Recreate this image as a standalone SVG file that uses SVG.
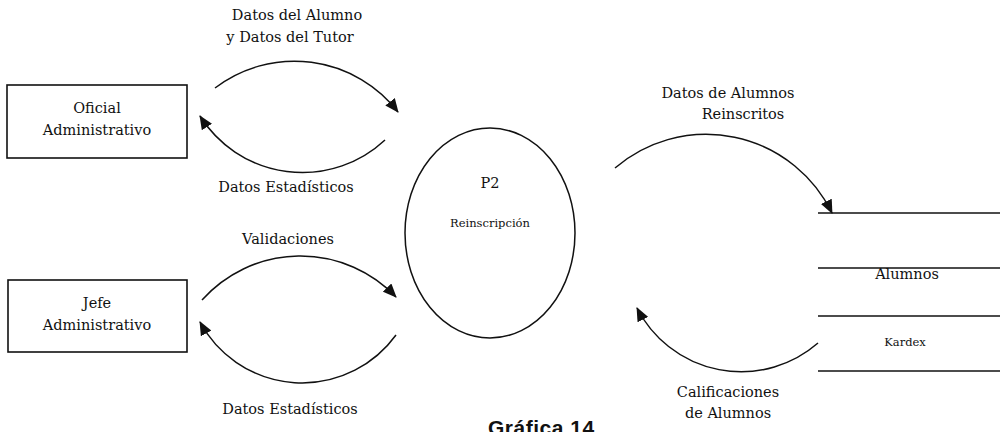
<svg xmlns="http://www.w3.org/2000/svg" width="1000" height="432" viewBox="0 0 1000 432">
<style>
.t{font-family:"DejaVu Serif","Liberation Serif",serif;font-size:14.5px;fill:#111;text-anchor:middle}
.s{font-size:11.5px}
.box{fill:#fff;stroke:#111;stroke-width:1.6}
.ln{fill:none;stroke:#111;stroke-width:1.5}
.title{font-family:"Liberation Sans",Arial,sans-serif;font-weight:bold;font-size:21px;letter-spacing:0.5px;fill:#111}
</style>
<defs>
<marker id="ah" viewBox="0 0 14 12" refX="13" refY="6" markerWidth="14" markerHeight="12" markerUnits="userSpaceOnUse" orient="auto">
<path d="M0,0 L14,6 L0,12 Z" fill="#111"/>
</marker>
</defs>
<rect width="1000" height="432" fill="#fff"/>
<g id="oficial">
<rect class="box" x="7" y="85" width="180" height="73"/>
<text class="t" x="97" y="113">Oficial</text>
<text class="t" x="97" y="135">Administrativo</text>
</g>
<g id="jefe">
<rect class="box" x="8" y="280" width="179" height="72"/>
<text class="t" x="97" y="308">Jefe</text>
<text class="t" x="97" y="330">Administrativo</text>
</g>
<g id="p2">
<ellipse class="ln" cx="490" cy="233" rx="85" ry="105"/>
<text class="t" x="490" y="188">P2</text>
<text class="t s" x="490" y="227">Reinscripción</text>
</g>
<g id="alumnos">
<line class="ln" x1="818" y1="213" x2="1000" y2="213"/>
<line class="ln" x1="818" y1="268" x2="1000" y2="268"/>
<text class="t" x="907" y="279">Alumnos</text>
</g>
<g id="kardex">
<line class="ln" x1="818" y1="316" x2="1000" y2="316"/>
<line class="ln" x1="818" y1="371" x2="1000" y2="371"/>
<text class="t s" x="905" y="346">Kardex</text>
</g>
<g id="connectors">
<path class="ln" d="M215,88 A131,131 0 0 1 398,112" marker-end="url(#ah)"/>
<path class="ln" d="M385,140 A121,121 0 0 1 200,116" marker-end="url(#ah)"/>
<path class="ln" d="M202,300 A132,132 0 0 1 396,297" marker-end="url(#ah)"/>
<path class="ln" d="M396,335 A116,116 0 0 1 200,322" marker-end="url(#ah)"/>
<path class="ln" d="M615,168 A140,140 0 0 1 832,213" marker-end="url(#ah)"/>
<path class="ln" d="M818,343 A117,117 0 0 1 637,308" marker-end="url(#ah)"/>
</g>
<g id="labels">
<text class="t" x="297" y="20">Datos del Alumno</text>
<text class="t" x="290" y="42">y Datos del Tutor</text>
<text class="t" x="286" y="192">Datos Estadísticos</text>
<text class="t" x="288" y="244">Validaciones</text>
<text class="t" x="290" y="414">Datos Estadísticos</text>
<text class="t" x="728" y="98">Datos de Alumnos</text>
<text class="t" x="743" y="119">Reinscritos</text>
<text class="t" x="728" y="397">Calificaciones</text>
<text class="t" x="728" y="418">de Alumnos</text>
</g>
<text class="title" x="488" y="435">Gráfica 14</text>
</svg>
